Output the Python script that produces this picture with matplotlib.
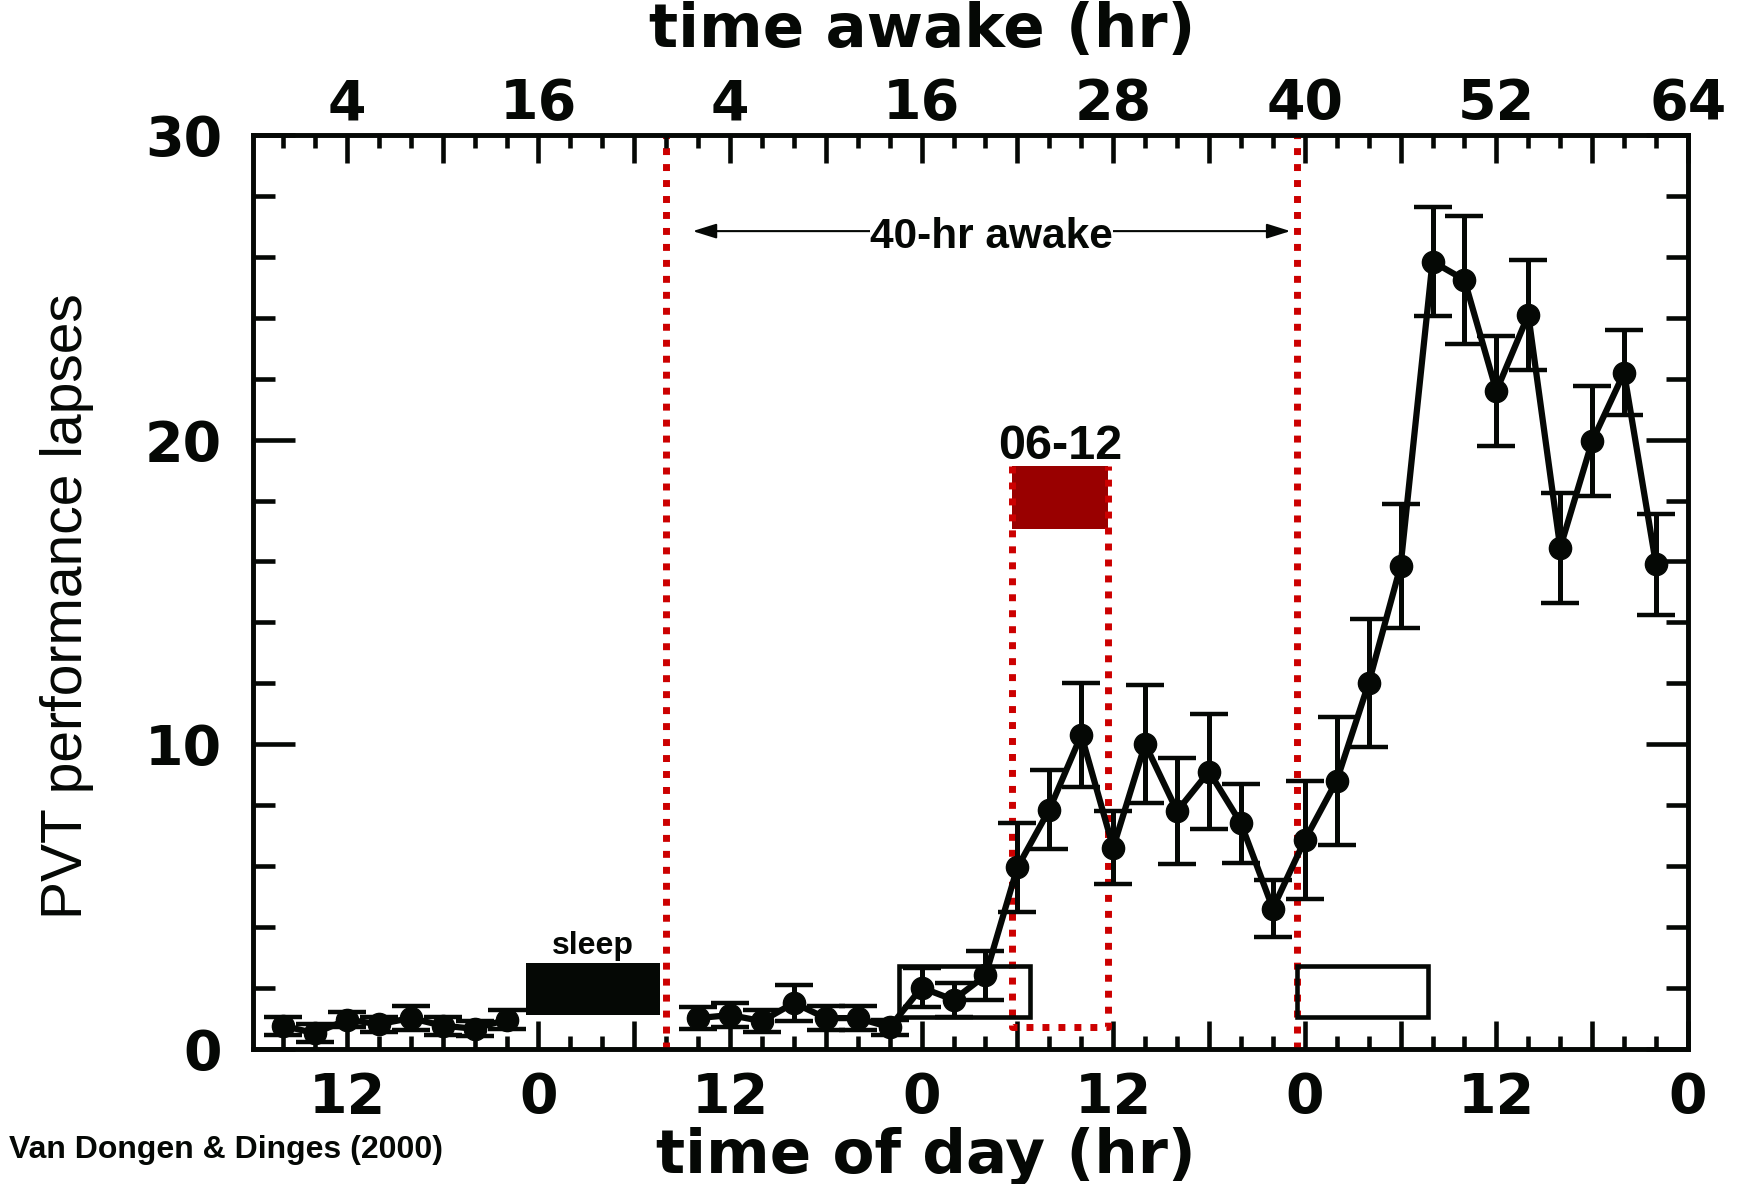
import matplotlib
matplotlib.use("Agg")
import matplotlib.pyplot as plt
from matplotlib.patches import Rectangle
from matplotlib.ticker import MultipleLocator, FuncFormatter

# clock hours counted from midnight before the baseline day
hours_day1 = [8, 10, 12, 14, 16, 18, 20, 22]
lapses_day1 = [0.75, 0.5, 0.95, 0.8, 1.0, 0.75, 0.65, 0.95]
sem_day1 = [0.3, 0.3, 0.25, 0.25, 0.4, 0.3, 0.25, 0.3]

# 88 h of continuous wakefulness starting 08:00 on day 2
hours_sd = [34, 36, 38, 40, 42, 44, 46, 48, 50, 52,
            54, 56, 58, 60, 62, 64, 66, 68, 70, 72,
            74, 76, 78, 80, 82, 84, 86, 88, 90, 92, 94]
lapses_sd = [1.0, 1.1, 0.9, 1.5, 1.0, 1.0, 0.7, 2.0, 1.6, 2.4,
             5.95, 7.85, 10.3, 6.6, 10.0, 7.8, 9.1, 7.4, 4.6, 6.85,
             8.8, 12.0, 15.85, 25.85, 25.25, 21.6, 24.1, 16.45, 19.95, 22.2, 15.9]
sem_sd = [0.35, 0.4, 0.35, 0.6, 0.4, 0.4, 0.25, 0.65, 0.55, 0.8,
          1.45, 1.3, 1.7, 1.2, 1.95, 1.75, 1.9, 1.3, 0.95, 1.95,
          2.1, 2.1, 2.05, 1.8, 2.1, 1.8, 1.8, 1.8, 1.8, 1.4, 1.65]

day_ticks = [12, 24, 36, 48, 60, 72, 84, 96]
day_labels = ["12", "0", "12", "0", "12", "0", "12", "0"]
awake_labels = ["4", "16", "4", "16", "28", "40", "52", "64"]

ink = "#050805"
red = "#cc0000"
dark_red = "#990000"
dot = (0, (1.0, 1.3))
narrow = "Liberation Sans"
wide = "DejaVu Sans"

fig = plt.figure(figsize=(17.38, 11.84), dpi=100)
ax = fig.add_axes([0.1454, 0.1144, 0.8258, 0.7714])
ax.set_xlim(6.1, 96)
ax.set_ylim(0, 30)

# sleep deprivation window and the 06-12 window
for x in (32, 71.5):
    ax.axvline(x, color=red, lw=5, ls=dot, zorder=3)
ax.add_patch(Rectangle((53.65, 17.05), 6.05, 2.1, facecolor=dark_red,
                       edgecolor="none", zorder=2))
ax.plot([53.65, 53.65, 59.7, 59.7], [19.15, 0.72, 0.72, 19.15],
        color=red, lw=5, ls=dot, zorder=3)

# sleep block and the two open night markers
ax.add_patch(Rectangle((23.2, 1.1), 8.4, 1.7, facecolor=ink, edgecolor="none", zorder=2))
for x0 in (46.6, 71.5):
    ax.add_patch(Rectangle((x0, 1.05), 8.2, 1.65, fill=False, edgecolor=ink,
                           lw=3.3, zorder=4))

kw = dict(fmt="-o", color=ink, lw=4.5, ms=16, elinewidth=3.6,
          capsize=14, capthick=3.2, zorder=5, clip_on=False)
ax.errorbar(hours_day1, lapses_day1, yerr=sem_day1, **kw)
ax.errorbar(hours_sd, lapses_sd, yerr=sem_sd, **kw)

ax.annotate("", xy=(33.66, 26.85), xytext=(71.1, 26.85),
            arrowprops=dict(arrowstyle="<|-|>,head_length=0.8,head_width=0.25",
                            color=ink, lw=1.5, mutation_scale=18,
                            shrinkA=0, shrinkB=0), zorder=5)
ax.text(52.4, 26.28, "40-hr awake", ha="center", va="baseline",
        family=narrow, weight="bold", fontsize=30.5, color=ink,
        bbox=dict(facecolor="white", edgecolor="none", pad=0), zorder=6)
ax.text(56.7, 19.35, "06-12", ha="center", va="baseline",
        family=narrow, weight="bold", fontsize=35, color=ink)
ax.text(27.4, 3.12, "sleep", ha="center", va="baseline",
        family=narrow, weight="bold", fontsize=23, color=ink)

# axes, ticks pointing inwards on all four sides
day_names = dict(zip(day_ticks, day_labels))
awake_names = dict(zip(day_ticks, awake_labels))


def namer(names):
    def fmt(v, _):
        return names.get(int(round(v)), "")
    return FuncFormatter(fmt)


ax2 = ax.twiny()
ax2.set_xlim(ax.get_xlim())
for a, names in ((ax, day_names), (ax2, awake_names)):
    a.xaxis.set_major_locator(MultipleLocator(6))
    a.xaxis.set_minor_locator(MultipleLocator(2))
    a.xaxis.set_major_formatter(namer(names))
    for s in a.spines.values():
        s.set_linewidth(3.3)
        s.set_color(ink)

ax.yaxis.set_major_locator(MultipleLocator(10))
ax.yaxis.set_minor_locator(MultipleLocator(2))

ax.tick_params(axis="x", which="both", direction="in", width=3.3, color=ink)
ax.tick_params(axis="x", which="major", length=20, pad=16)
ax.tick_params(axis="x", which="minor", length=9.5)
ax2.tick_params(axis="x", which="both", direction="in", width=3.3, color=ink)
ax2.tick_params(axis="x", which="major", length=20, pad=3)
ax2.tick_params(axis="x", which="minor", length=9.5)
ax.tick_params(axis="y", which="both", direction="in", width=3.3, color=ink,
               left=True, right=True, labelright=False)
ax.tick_params(axis="y", which="major", length=30, pad=22)
ax.tick_params(axis="y", which="minor", length=16)

for lab in ax.get_xticklabels() + ax.get_yticklabels() + ax2.get_xticklabels():
    lab.set_family(wide)
    lab.set_weight("bold")
    lab.set_fontsize(40)
    lab.set_color(ink)

fig.text(0.5305, 0.9607, "time awake (hr)", ha="center", va="baseline",
         family=wide, weight="bold", fontsize=44, color=ink)
fig.text(0.5325, 0.0095, "time of day (hr)", ha="center", va="baseline",
         family=wide, weight="bold", fontsize=44, color=ink)
fig.text(0.0472, 0.488, "PVT performance lapses", rotation=90,
         rotation_mode="anchor", ha="center", va="baseline",
         family=narrow, fontsize=41, color=ink)
fig.text(0.0051, 0.022, "Van Dongen & Dinges (2000)", ha="left", va="baseline",
         family=narrow, weight="bold", fontsize=23, color=ink)

fig.savefig("out.png", dpi=100, facecolor="white")
